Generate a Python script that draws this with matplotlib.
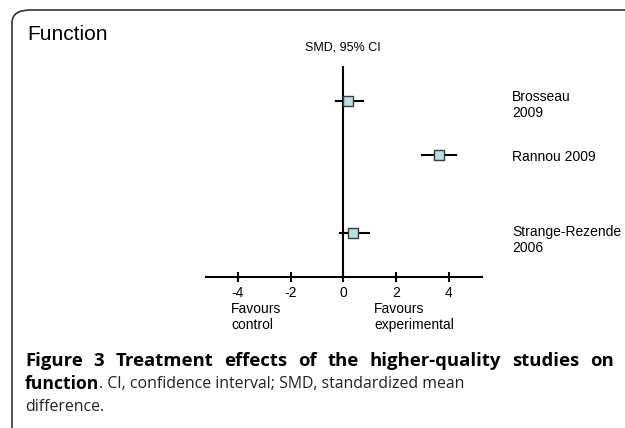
import matplotlib
matplotlib.use("Agg")
import matplotlib.pyplot as plt
from matplotlib.patches import FancyBboxPatch

# Forest plot data (SMD with 95% CI)
studies = ["Brosseau\n2009", "Rannou 2009", "Strange-Rezende\n2006"]
smd = [0.19, 3.62, 0.38]
ci_low = [-0.28, 2.98, -0.11]
ci_high = [0.76, 4.26, 0.96]
row_pos = [1.33, 3.37, 6.33]
ticks = [-4, -2, 0, 2, 4]

W, H = 625, 428
fig = plt.figure(figsize=(W / 100, H / 100), dpi=100)
plt.rcParams['font.family'] = ['Liberation Sans', 'DejaVu Sans']


def fx(px):
    return px / W


def fy(py):
    return 1 - py / H


# frame with rounded top-left corner
frame = FancyBboxPatch((fx(12), fy(600)), 2.0, fy(10) - fy(600),
                       boxstyle="round,pad=0,rounding_size=0.03",
                       transform=fig.transFigure, fill=False,
                       edgecolor="#333333", linewidth=1.2)
fig.patches.append(frame)

ax = fig.add_axes([fx(206), fy(277), fx(482) - fx(206), fy(66) - fy(277)])
ax.set_xlim(-5.2, 5.25)
ax.set_ylim(8, 0)

ax.axvline(0, color="black", linewidth=1.5, zorder=1)
for y, m, lo, hi in zip(row_pos, smd, ci_low, ci_high):
    ax.plot([lo, hi], [y, y], color="black", linewidth=1.5, zorder=2)
ax.plot(smd, row_pos, linestyle="none", marker="s", markersize=7.6,
        markerfacecolor="#b9dfe1", markeredgecolor="#3a3a3a",
        markeredgewidth=1.0, zorder=3)

for s in ["top", "right", "left"]:
    ax.spines[s].set_visible(False)
ax.spines["bottom"].set_linewidth(1.5)
ax.set_yticks([])
ax.set_xticks(ticks)
ax.set_xticklabels([str(t) for t in ticks], fontsize=10)
ax.tick_params(axis="x", direction="inout", length=7, width=1.5, pad=3)

# study labels
label_y = [105, 157, 240]
for lab, y in zip(studies, label_y):
    fig.text(fx(512), fy(y), lab, fontsize=10, ha="left", va="center",
             linespacing=1.2)

fig.text(fx(27), fy(35), "Function", fontsize=15, ha="left", va="center")
fig.text(fx(343), fy(47), "SMD, 95% CI", fontsize=9, ha="center", va="center")
fig.text(fx(231), fy(317), "Favours\ncontrol", fontsize=10, ha="left",
         va="center", linespacing=1.2)
fig.text(fx(374), fy(317), "Favours\nexperimental", fontsize=10, ha="left",
         va="center", linespacing=1.2)

# caption
cap = dict(family=["Open Sans", "DejaVu Sans"], va="center")
r = fig.canvas.get_renderer()

# justified bold first line
words = "Figure 3 Treatment effects of the higher-quality studies on".split()
left, right = 25, 614
items = [fig.text(0, fy(361), w, fontweight="bold", fontsize=13.3, **cap)
         for w in words]
widths = [t.get_window_extent(renderer=r).width for t in items]
gap = (right - left - sum(widths)) / (len(words) - 1)
x = left
for t, w in zip(items, widths):
    t.set_x(fx(x))
    x += w + gap

t = fig.text(fx(25), fy(384), "function", fontweight="bold", fontsize=12.6, **cap)
bb = t.get_window_extent(renderer=r)
fig.text(bb.x1 / W, fy(384), ". CI, confidence interval; SMD, standardized mean",
         color="#222222", fontsize=11.4, **cap)
fig.text(fx(25), fy(407), "difference.", color="#222222", fontsize=11.4, **cap)

fig.savefig("out.png", dpi=100)
